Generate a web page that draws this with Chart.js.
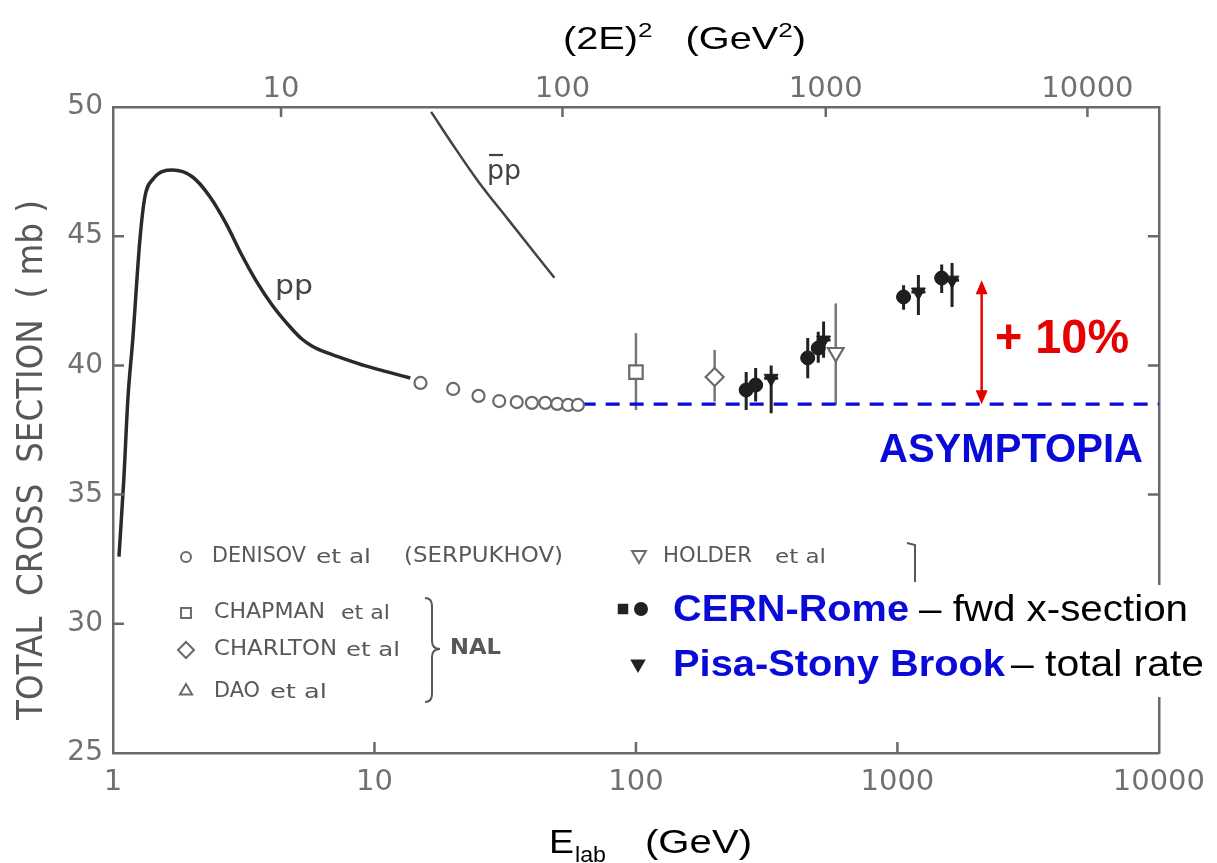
<!DOCTYPE html>
<html>
<head>
<meta charset="utf-8">
<script src="https://cdn.jsdelivr.net/npm/chart.js@4.4.0/dist/chart.umd.min.js"></script>
<style>
  html, body { margin: 0; padding: 0; background: #fff; }
  canvas { display: block; }
</style>
</head>
<body>
<canvas id="xsChart" width="1217" height="863"></canvas>
<script>
// proton mass in GeV, used to place the (2E)^2 axis on top
const M_P = 0.938;

const eTicks = [1, 10, 100, 1000, 10000];
const eTickLabels = ['1', '10', '100', '1000', '10000'];
const sTicks = [10, 100, 1000, 10000];
const sTickLabels = ['10', '100', '1000', '10000'];
const yTicks = [25, 30, 35, 40, 45, 50];

// pp total cross section (E_lab in GeV, sigma in mb)
const ppE     = [1.054, 1.10, 1.14, 1.19, 1.267, 1.323, 1.42, 1.69, 2.01, 2.34, 2.714, 3.094, 3.528, 4.059, 4.835, 5.278, 5.761, 6.454, 7.298, 9.243, 11.30, 13.71];
const ppSigma = [32.6, 35.6, 38.7, 41.0, 44.85, 46.5, 47.2, 47.56, 47.3, 46.55, 45.47, 44.31, 43.27, 42.34, 41.41, 41.02, 40.75, 40.52, 40.33, 39.98, 39.74, 39.51];

// pbar-p curve
const pbarE     = [16.47, 19.97, 24.86, 32.32, 48.77];
const pbarSigma = [49.81, 48.53, 47.14, 45.67, 43.39];

// Serpukhov points
const denisovE     = [15, 20, 25, 30, 35, 40, 45, 50, 55, 60];
const denisovSigma = [39.32, 39.09, 38.82, 38.62, 38.58, 38.55, 38.55, 38.51, 38.47, 38.47];

// NAL points
const chapmanE = [100];
const chapmanSigma = [39.74];
const chapmanLo = [38.27];
const chapmanHi = [41.25];

const charltonE = [200];
const charltonSigma = [39.55];
const charltonLo = [38.6];
const charltonHi = [40.6];

const holderE = [581];
const holderSigma = [40.5];
const holderLo = [38.47];
const holderHi = [42.4];

// ISR points
const cernRomeE     = [264, 287, 454, 498, 1056, 1477];
const cernRomeSigma = [39.05, 39.24, 40.29, 40.67, 42.65, 43.38];
const cernRomeLo    = [38.27, 38.6, 39.5, 40.1, 42.15, 42.8];
const cernRomeHi    = [39.74, 39.9, 41.06, 41.3, 43.1, 43.9];

const pisaE     = [329, 522, 1203, 1618];
const pisaSigma = [39.5, 40.98, 42.84, 43.3];
const pisaLo    = [38.15, 40.3, 41.95, 42.26];
const pisaHi    = [40.0, 41.7, 43.5, 43.96];

// flat "asymptotic" level and the +10% rise
const asymE = [62, 10000];
const asymSigma = [38.5, 38.5];
const riseE = 2100;
const riseFrom = 38.5;
const riseTo = 43.3;

const OLD_GREY = '#585858';
const AXIS_GREY = '#6a6a6a';
const BLUE = '#0a0ad8';
const RED = '#e60000';

function eFromS(s) {
    return (s - 2 * M_P * M_P) / (2 * M_P);
}

function pts(xs, ys) {
    return xs.map((x, i) => ({ x: x, y: ys[i] }));
}

function openStyle(style, radius, rotation) {
    return {
        pointStyle: style,
        pointRadius: radius,
        pointRotation: rotation || 0,
        pointBackgroundColor: '#fff',
        pointBorderColor: '#6a6a6a',
        pointBorderWidth: 2.2,
        showLine: false
    };
}

// vertical error bars, drawn under the markers
const errorBars = {
    id: 'errorBars',
    beforeDatasetsDraw(chart) {
        const ctx = chart.ctx;
        const yScale = chart.scales.y;
        chart.data.datasets.forEach((ds, i) => {
            if (!ds.errLo) return;
            const meta = chart.getDatasetMeta(i);
            ctx.save();
            ctx.strokeStyle = ds.barColor;
            ctx.lineWidth = ds.barWidth;
            meta.data.forEach((pt, j) => {
                ctx.beginPath();
                ctx.moveTo(pt.x, yScale.getPixelForValue(ds.errLo[j]));
                ctx.lineTo(pt.x, yScale.getPixelForValue(ds.errHi[j]));
                if (ds.capHalf) {
                    ctx.moveTo(pt.x - ds.capHalf, pt.y);
                    ctx.lineTo(pt.x + ds.capHalf, pt.y);
                }
                ctx.stroke();
            });
            ctx.restore();
        });
    }
};

// text squeezed or stretched to a given width
function fitText(ctx, str, x, y, font, color, width) {
    ctx.save();
    ctx.font = font;
    const w = ctx.measureText(str).width;
    ctx.translate(x, y);
    ctx.scale(width / w, 1);
    ctx.fillStyle = color;
    ctx.textAlign = 'left';
    ctx.textBaseline = 'middle';
    ctx.fillText(str, 0, 0);
    ctx.restore();
}

function marker(ctx, style, x, y, r, rot, filled) {
    ctx.save();
    ctx.fillStyle = filled ? '#222' : '#fff';
    ctx.strokeStyle = filled ? '#222' : '#6a6a6a';
    ctx.lineWidth = 2;
    Chart.helpers.drawPoint(ctx, { pointStyle: style, radius: r, rotation: rot || 0, borderWidth: 2 }, x, y);
    ctx.restore();
}

// runs of text with superscripts/subscripts, stretched to a width
function drawRuns(ctx, parts, x, baseline, width) {
    ctx.save();
    let total = 0;
    parts.forEach(p => { ctx.font = p.font; total += ctx.measureText(p.t).width; });
    ctx.translate(x, baseline);
    ctx.scale(width / total, 1);
    ctx.fillStyle = '#000';
    ctx.textAlign = 'left';
    ctx.textBaseline = 'alphabetic';
    let cx = 0;
    parts.forEach(p => {
        ctx.font = p.font;
        ctx.fillText(p.t, cx, p.dy || 0);
        cx += ctx.measureText(p.t).width;
    });
    ctx.restore();
}

const decorations = {
    id: 'decorations',
    beforeDraw(chart) {
        const ctx = chart.ctx;
        ctx.save();
        ctx.fillStyle = '#fff';
        ctx.fillRect(0, 0, chart.width, chart.height);
        ctx.restore();
    },
    afterDraw(chart) {
        const ctx = chart.ctx;
        const xs = chart.scales.x, ys = chart.scales.y;
        const area = chart.chartArea;
        ctx.save();

        // inward tick marks on all four sides
        ctx.strokeStyle = AXIS_GREY;
        ctx.lineWidth = 2.5;
        ctx.beginPath();
        yTicks.slice(1, -1).forEach(v => {
            const py = ys.getPixelForValue(v);
            ctx.moveTo(area.left, py); ctx.lineTo(area.left + 11, py);
            ctx.moveTo(area.right - 11, py); ctx.lineTo(area.right, py);
        });
        eTicks.slice(1, -1).forEach(v => {
            const px = xs.getPixelForValue(v);
            ctx.moveTo(px, area.bottom); ctx.lineTo(px, area.bottom - 11);
        });
        sTicks.forEach(s => {
            const px = xs.getPixelForValue(eFromS(s));
            ctx.moveTo(px, area.top); ctx.lineTo(px, area.top + 10);
        });
        ctx.stroke();

        // axis titles
        const big = '32px "Liberation Sans"';
        const sup = '21px "Liberation Sans"';
        drawRuns(ctx, [
            { t: '(2E)', font: big }, { t: '2', font: sup, dy: -12 },
            { t: '   (GeV', font: big }, { t: '2', font: sup, dy: -12 },
            { t: ')', font: big }
        ], 563, 49, 243);
        drawRuns(ctx, [{ t: 'E', font: '34px "Liberation Sans"' }], 549, 853, 25);
        drawRuns(ctx, [{ t: 'lab', font: '22px "Liberation Sans"' }], 575, 862, 31);
        drawRuns(ctx, [{ t: '(GeV)', font: '34px "Liberation Sans"' }], 645, 853, 107);

        const yTitle = 'TOTAL  CROSS  SECTION  ( mb )';
        ctx.save();
        ctx.translate(33, 460);
        ctx.rotate(-Math.PI / 2);
        ctx.font = '36px "DejaVu Sans"';
        const tw = ctx.measureText(yTitle).width;
        ctx.scale(520 / tw, 1);
        ctx.fillStyle = OLD_GREY;
        ctx.textAlign = 'center';
        ctx.textBaseline = 'middle';
        ctx.fillText(yTitle, 0, 0);
        ctx.restore();

        // curve labels
        fitText(ctx, 'pp', 275, 287, '27px "DejaVu Sans"', '#444', 38);
        fitText(ctx, 'pp', 487, 172, '27px "DejaVu Sans"', '#444', 34);
        ctx.strokeStyle = '#444';
        ctx.lineWidth = 2.2;
        ctx.beginPath();
        ctx.moveTo(489, 155); ctx.lineTo(503, 155);
        ctx.stroke();

        // old-style legend
        const oldFont = '21px "DejaVu Sans"';
        const etFont = '19px "DejaVu Sans"';
        marker(ctx, 'circle', 186, 557, 5);
        fitText(ctx, 'DENISOV', 212, 557, oldFont, OLD_GREY, 94);
        fitText(ctx, 'et al', 316, 558, etFont, OLD_GREY, 55);
        fitText(ctx, '(SERPUKHOV)', 404, 557, oldFont, OLD_GREY, 159);

        marker(ctx, 'triangle', 639, 555, 8, 180);
        fitText(ctx, 'HOLDER', 663, 557, oldFont, OLD_GREY, 89);
        fitText(ctx, 'et al', 775, 558, etFont, OLD_GREY, 51);

        marker(ctx, 'rect', 186, 613, 7);
        fitText(ctx, 'CHAPMAN', 214, 613, oldFont, OLD_GREY, 111);
        fitText(ctx, 'et al', 341, 614, etFont, OLD_GREY, 49);

        marker(ctx, 'rectRot', 186, 650, 8);
        fitText(ctx, 'CHARLTON', 214, 650, oldFont, OLD_GREY, 123);
        fitText(ctx, 'et al', 346, 651, etFont, OLD_GREY, 54);

        marker(ctx, 'triangle', 186, 691, 7);
        fitText(ctx, 'DAO', 214, 692, oldFont, OLD_GREY, 46);
        fitText(ctx, 'et al', 270, 693, etFont, OLD_GREY, 57);

        fitText(ctx, 'NAL', 450, 648, 'bold 22px "DejaVu Sans"', OLD_GREY, 51);

        ctx.strokeStyle = OLD_GREY;
        ctx.lineWidth = 2;
        ctx.beginPath();
        ctx.moveTo(425, 598);
        ctx.quadraticCurveTo(432, 598, 432, 606);
        ctx.lineTo(432, 641);
        ctx.quadraticCurveTo(432, 649, 440, 649);
        ctx.quadraticCurveTo(432, 649, 432, 657);
        ctx.lineTo(432, 694);
        ctx.quadraticCurveTo(432, 702, 425, 702);
        ctx.moveTo(907, 543);
        ctx.lineTo(915, 545);
        ctx.lineTo(915, 582);
        ctx.stroke();

        // modern legend on a white patch
        ctx.fillStyle = '#fff';
        ctx.fillRect(602, 585, 615, 112);
        marker(ctx, 'rect', 623, 609, 6, 0, true);
        marker(ctx, 'circle', 641, 609, 6, 0, true);
        marker(ctx, 'triangle', 638, 664, 7, 180, true);
        fitText(ctx, 'CERN-Rome', 673, 611, 'bold 36px "Liberation Sans"', BLUE, 236);
        fitText(ctx, '\u2013 fwd x-section', 919, 611, '36px "Liberation Sans"', '#000', 269);
        fitText(ctx, 'Pisa-Stony Brook', 673, 666, 'bold 36px "Liberation Sans"', BLUE, 332);
        fitText(ctx, '\u2013 total rate', 1011, 666, '36px "Liberation Sans"', '#000', 193);

        // +10% rise arrow
        const ax = xs.getPixelForValue(riseE);
        const ay0 = ys.getPixelForValue(riseFrom);
        const ay1 = ys.getPixelForValue(riseTo);
        ctx.strokeStyle = RED;
        ctx.fillStyle = RED;
        ctx.lineWidth = 2.5;
        ctx.beginPath();
        ctx.moveTo(ax, ay0 - 10); ctx.lineTo(ax, ay1 + 10);
        ctx.stroke();
        ctx.beginPath();
        ctx.moveTo(ax, ay1); ctx.lineTo(ax - 6, ay1 + 14); ctx.lineTo(ax + 6, ay1 + 14); ctx.closePath();
        ctx.moveTo(ax, ay0); ctx.lineTo(ax - 6, ay0 - 14); ctx.lineTo(ax + 6, ay0 - 14); ctx.closePath();
        ctx.fill();

        fitText(ctx, '+ 10%', 995, 340, 'bold 48px "Liberation Sans"', RED, 134);
        fitText(ctx, 'ASYMPTOPIA', 879, 451, 'bold 41px "Liberation Sans"', BLUE, 264);

        ctx.restore();
    }
};

new Chart(document.getElementById('xsChart'), {
    type: 'scatter',
    data: {
        datasets: [
            {
                label: 'asymptopia',
                data: pts(asymE, asymSigma),
                showLine: true,
                borderColor: BLUE,
                borderWidth: 3.2,
                borderDash: [14, 10],
                pointRadius: 0,
                order: 10
            },
            {
                label: 'pp',
                data: pts(ppE, ppSigma),
                showLine: true,
                borderColor: '#2a2a2a',
                borderWidth: 3.5,
                cubicInterpolationMode: 'monotone',
                pointRadius: 0,
                order: 9
            },
            {
                label: 'pbar p',
                data: pts(pbarE, pbarSigma),
                showLine: true,
                borderColor: '#444',
                borderWidth: 2.5,
                cubicInterpolationMode: 'monotone',
                pointRadius: 0,
                order: 9
            },
            Object.assign({ label: 'Denisov', data: pts(denisovE, denisovSigma), order: 5 }, openStyle('circle', 6)),
            Object.assign({ label: 'Chapman', data: pts(chapmanE, chapmanSigma), errLo: chapmanLo, errHi: chapmanHi,
                barColor: '#777', barWidth: 2.5, order: 5 }, openStyle('rect', 9.5)),
            Object.assign({ label: 'Charlton', data: pts(charltonE, charltonSigma), errLo: charltonLo, errHi: charltonHi,
                barColor: '#777', barWidth: 2.5, order: 5 }, openStyle('rectRot', 9)),
            Object.assign({ label: 'Holder', data: pts(holderE, holderSigma), errLo: holderLo, errHi: holderHi,
                barColor: '#777', barWidth: 2.5, order: 5 }, openStyle('triangle', 9, 180)),
            {
                label: 'CERN-Rome',
                data: pts(cernRomeE, cernRomeSigma),
                errLo: cernRomeLo, errHi: cernRomeHi,
                barColor: '#222', barWidth: 3, capHalf: 7,
                showLine: false,
                pointStyle: 'circle',
                pointRadius: 7,
                pointBackgroundColor: '#1e1e1e',
                pointBorderColor: '#1e1e1e',
                order: 2
            },
            {
                label: 'Pisa-Stony Brook',
                data: pts(pisaE, pisaSigma),
                errLo: pisaLo, errHi: pisaHi,
                barColor: '#222', barWidth: 3, capHalf: 7,
                showLine: false,
                pointStyle: 'triangle',
                pointRotation: 180,
                pointRadius: 8,
                pointBackgroundColor: '#1e1e1e',
                pointBorderColor: '#1e1e1e',
                order: 1
            }
        ]
    },
    options: {
        responsive: false,
        devicePixelRatio: 1,
        animation: false,
        layout: { padding: { left: 0, right: 52, top: 0, bottom: 0 } },
        plugins: {
            legend: { display: false },
            tooltip: { enabled: false }
        },
        scales: {
            x: {
                type: 'logarithmic',
                position: 'bottom',
                min: 1,
                max: 10000,
                afterBuildTicks: scale => { scale.ticks = eTicks.map(v => ({ value: v })); },
                afterFit: scale => { scale.height = 110; },
                grid: { display: false, drawTicks: false },
                border: { display: true, color: AXIS_GREY, width: 2.5 },
                ticks: {
                    autoSkip: false, maxRotation: 0, padding: 12,
                    color: '#707070', font: { family: '"DejaVu Sans"', size: 29 },
                    callback: (v, i) => eTickLabels[i]
                }
            },
            x2: {
                type: 'logarithmic',
                position: 'top',
                min: 1,
                max: 10000,
                afterBuildTicks: scale => { scale.ticks = sTicks.map(s => ({ value: eFromS(s) })); },
                afterFit: scale => { scale.height = 107; },
                grid: { display: false, drawTicks: false },
                border: { display: true, color: AXIS_GREY, width: 2.5 },
                ticks: {
                    autoSkip: false, maxRotation: 0, padding: 0,
                    color: '#707070', font: { family: '"DejaVu Sans"', size: 29 },
                    callback: (v, i) => sTickLabels[i]
                }
            },
            y: {
                type: 'linear',
                position: 'left',
                min: 25,
                max: 50,
                afterBuildTicks: scale => { scale.ticks = yTicks.map(v => ({ value: v })); },
                afterFit: scale => { scale.width = 113; },
                grid: { display: false, drawTicks: false },
                border: { display: true, color: AXIS_GREY, width: 2.5 },
                ticks: {
                    padding: 10,
                    color: '#707070', font: { family: '"DejaVu Sans"', size: 28 },
                    callback: v => String(v)
                }
            },
            y2: {
                type: 'linear',
                position: 'right',
                min: 25,
                max: 50,
                afterFit: scale => { scale.width = 0; },
                grid: { display: false, drawTicks: false },
                border: { display: true, color: AXIS_GREY, width: 2.5 },
                ticks: { display: false }
            }
        }
    },
    plugins: [errorBars, decorations]
});
</script>
</body>
</html>
